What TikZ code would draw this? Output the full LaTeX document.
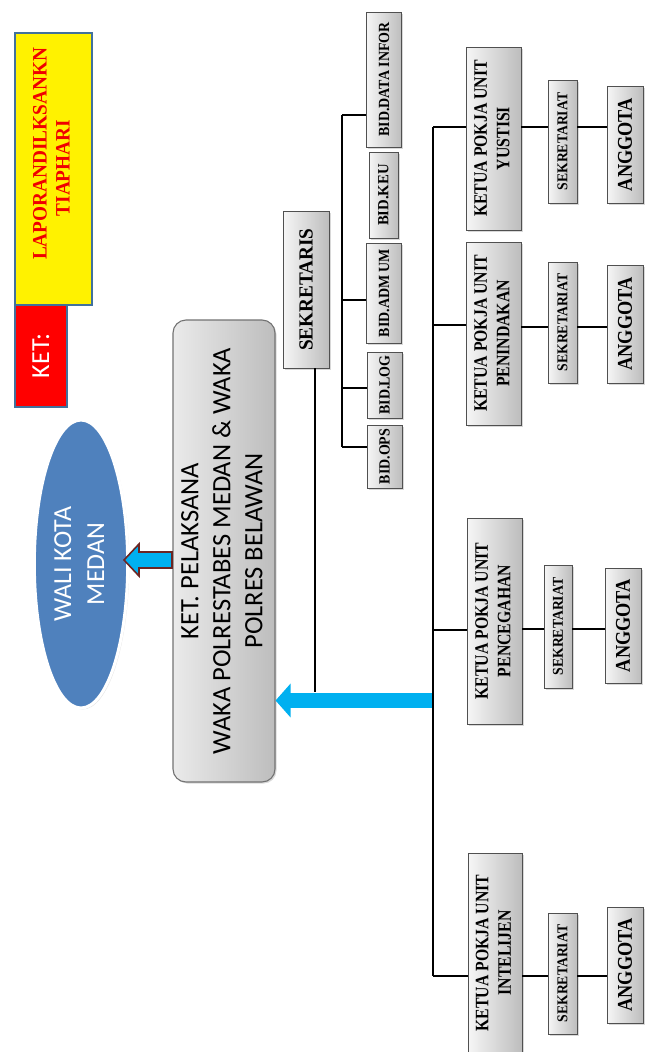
\documentclass[tikz,border=0pt]{standalone}
\usepackage{fontspec}
\setmainfont{Liberation Serif}
\newfontfamily\calib{Carlito}
\usetikzlibrary{shapes.geometric,shadows,arrows.meta,calc}
\definecolor{bordblue}{HTML}{41719C}
\definecolor{elblue}{HTML}{4F81BD}
\definecolor{cyanb}{HTML}{00B0F0}
\definecolor{darkred}{HTML}{6B2523}
\definecolor{gl}{HTML}{F6F6F6}
\definecolor{gd}{HTML}{BDBDBD}
\definecolor{gb}{HTML}{505050}
\definecolor{redtxt}{HTML}{F00000}
\newcommand\rotT[1]{\rotatebox{90}{#1}}
\newcommand\sq[2]{\rotatebox{90}{\scalebox{#1}[1]{#2}}}
\newcommand\mlines[1]{\begin{tabular}{@{}c@{}}#1\end{tabular}}
\begin{document}
\begin{tikzpicture}[x=1pt,y=-1pt,
  gbox/.style={draw=gb, line width=0.9pt, left color=gl, right color=gd, inner sep=0pt,
    drop shadow={shadow xshift=1.5pt, shadow yshift=-1.5pt, opacity=0.3}},
  conn/.style={line width=2.5pt, black},
  ketua/.style={gbox, minimum width=55pt, font=\bfseries\fontsize{19}{22.5}\selectfont},
  sekbox/.style={gbox, minimum width=29pt, font=\bfseries\fontsize{15}{17}\selectfont},
  angbox/.style={gbox, minimum width=36pt, font=\bfseries\fontsize{21}{24}\selectfont},
  bidbox/.style={gbox, minimum width=35pt, font=\bfseries\fontsize{15.5}{17}\selectfont},
  keybox/.style={draw=bordblue, line width=1.6pt, inner sep=0pt}
]
\fill[white] (0,0) rectangle (651,1052);
\useasboundingbox (0,0) rectangle (651,1052);

% legend
\node[keybox, fill=red, minimum width=52pt, minimum height=102pt, text=white,
  font=\calib\fontsize{26}{30}\selectfont] (ket) at (41,356) {\rotT{KET:}};
\node[keybox, fill=yellow, minimum width=77pt, minimum height=272pt] (lap) at (53.5,169) {};
\node[text=redtxt, inner sep=0pt, font=\bfseries\fontsize{20.5}{23}\selectfont] (laptxt) at (53.5,154)
  {\sq{0.94}{\mlines{LAPORANDILKSANKN\\TIAPHARI\hspace*{30pt}}}};

% wali kota
\node[ellipse, fill=elblue, draw=white, line width=3pt, minimum width=92pt, minimum height=288pt,
  inner sep=0pt, text=white, font=\calib\fontsize{26}{33}\selectfont,
  drop shadow={shadow xshift=1.5pt, shadow yshift=-1.5pt, opacity=0.2}] (wali) at (81,564)
  {\rotT{\mlines{WALI KOTA\\MEDAN}}};

% main box
\node[draw=gb!80, line width=1.1pt, rounded corners=13pt, left color=gl!90!gray, right color=gd,
  minimum width=102pt, minimum height=462pt, inner sep=0pt, font=\calib\fontsize{26.5}{32}\selectfont,
  drop shadow={shadow xshift=1.5pt, shadow yshift=-1.5pt, opacity=0.3}] (main) at (224,551)
  {\rotT{\mlines{KET. PELAKSANA\\WAKA POLRESTABES MEDAN \& WAKA\\POLRES BELAWAN}}};

% hollow arrow to wali kota
\draw[darkred, line width=1.6pt, fill=cyanb, line join=miter]
  (172,552) -- (139,552) -- (139,544) -- (124,560) -- (139,576) -- (139,568) -- (172,568) -- cycle;

% sekretaris
\node[gbox, minimum width=46pt, minimum height=157pt, font=\bfseries\fontsize{20}{22}\selectfont]
  (sek) at (306,289.5) {\sq{0.96}{SEKRETARIS}};

% bid boxes
\node[bidbox, minimum height=135pt] (bdi) at (384,79.5) {\sq{0.9}{BID.DATA INFOR}};
\node[bidbox, minimum width=29pt, minimum height=86pt] (bkeu) at (383.5,195) {\sq{0.95}{BID.KEU}};
\node[bidbox, minimum height=100pt] (badm) at (384,293) {\sq{0.9}{BID.ADM UM}};
\node[bidbox, minimum height=66pt] (blog) at (384.5,385) {\sq{0.9}{BID.LOG}};
\node[bidbox, minimum height=63pt] (bops) at (384.5,456.5) {\sq{0.9}{BID.OPS}};

% bid bus
\coordinate (b1) at (342,115);
\coordinate (b2) at (342,300);
\coordinate (b3) at (342,388);
\coordinate (b4) at (342,447);
\draw[conn] (b1) -- (b4);
\draw[conn] (b1) -- (bdi.west |- b1);
\draw[conn] (b2) -- (badm.west |- b2);
\draw[conn] (b3) -- (blog.west |- b3);
\draw[conn] (b4) -- (bops.west |- b4);

% ketua boxes
\node[ketua, minimum height=183pt] (kyus) at (493.5,138.5) {\sq{0.83}{\mlines{KETUA POKJA UNIT\\YUSTISI}}};
\node[ketua, minimum height=183pt] (kpnd) at (493.5,333.5) {\sq{0.83}{\mlines{KETUA POKJA UNIT\\PENINDAKAN}}};
\node[ketua, minimum height=206pt] (kpnc) at (494.5,621) {\sq{0.83}{\mlines{KETUA POKJA UNIT\\PENCEGAHAN}}};
\node[ketua, minimum width=54pt, minimum height=200pt] (kint) at (495,953) {\sq{0.83}{\mlines{KETUA POKJA UNIT\\INTELIJEN}}};

% sekretariat boxes
\node[sekbox, minimum height=123pt] (syus) at (562.5,141.5) {\sq{0.91}{SEKRETARIAT}};
\node[sekbox, minimum height=121pt] (spnd) at (562.5,322.5) {\sq{0.91}{SEKRETARIAT}};
\node[sekbox, minimum width=28pt, minimum height=123pt] (spnc) at (558,626.5) {\sq{0.91}{SEKRETARIAT}};
\node[sekbox, minimum height=121pt] (sint) at (562.5,973.5) {\sq{0.91}{SEKRETARIAT}};

% anggota boxes
\node[angbox, minimum height=117pt] (ayus) at (625,144.5) {\sq{0.87}{ANGGOTA}};
\node[angbox, minimum height=118pt] (apnd) at (625,324) {\sq{0.87}{ANGGOTA}};
\node[angbox, minimum height=115pt] (apnc) at (623,625.5) {\sq{0.87}{ANGGOTA}};
\node[angbox, minimum height=116pt] (aint) at (625,965) {\sq{0.87}{ANGGOTA}};

% row connectors
\coordinate (r1) at (0,127);
\coordinate (r2) at (0,327);
\coordinate (r3) at (0,629);
\coordinate (r4) at (0,976);
\draw[conn] (kyus.east |- r1) -- (syus.west |- r1);
\draw[conn] (syus.east |- r1) -- (ayus.west |- r1);
\draw[conn] (kpnd.east |- r2) -- (spnd.west |- r2);
\draw[conn] (spnd.east |- r2) -- (apnd.west |- r2);
\draw[conn] (kpnc.east |- r3) -- (spnc.west |- r3);
\draw[conn] (spnc.east |- r3) -- (apnc.west |- r3);
\draw[conn] (kint.east |- r4) -- (sint.west |- r4);
\draw[conn] (sint.east |- r4) -- (aint.west |- r4);

% blue arrow from main bus to main box
\coordinate (ba) at (432,700.5);
\draw[cyanb, line width=15pt, -{Triangle[length=15pt,width=33pt]}] (ba) -- (main.east |- ba);

% sekretaris line
\coordinate (sx) at (315,0);
\draw[line width=2pt] (sek.south -| sx) -- (315,692);

% main bus
\coordinate (m1) at (433,127);
\coordinate (m2) at (433,325);
\coordinate (m3) at (433,630);
\coordinate (m4) at (433,976);
\draw[conn] (m1) -- (m4);
\draw[conn] (m1) -- (kyus.west |- m1);
\draw[conn] (m2) -- (kpnd.west |- m2);
\draw[conn] (m3) -- (kpnc.west |- m3);
\draw[conn] (m4) -- (kint.west |- m4);
\end{tikzpicture}
\end{document}
